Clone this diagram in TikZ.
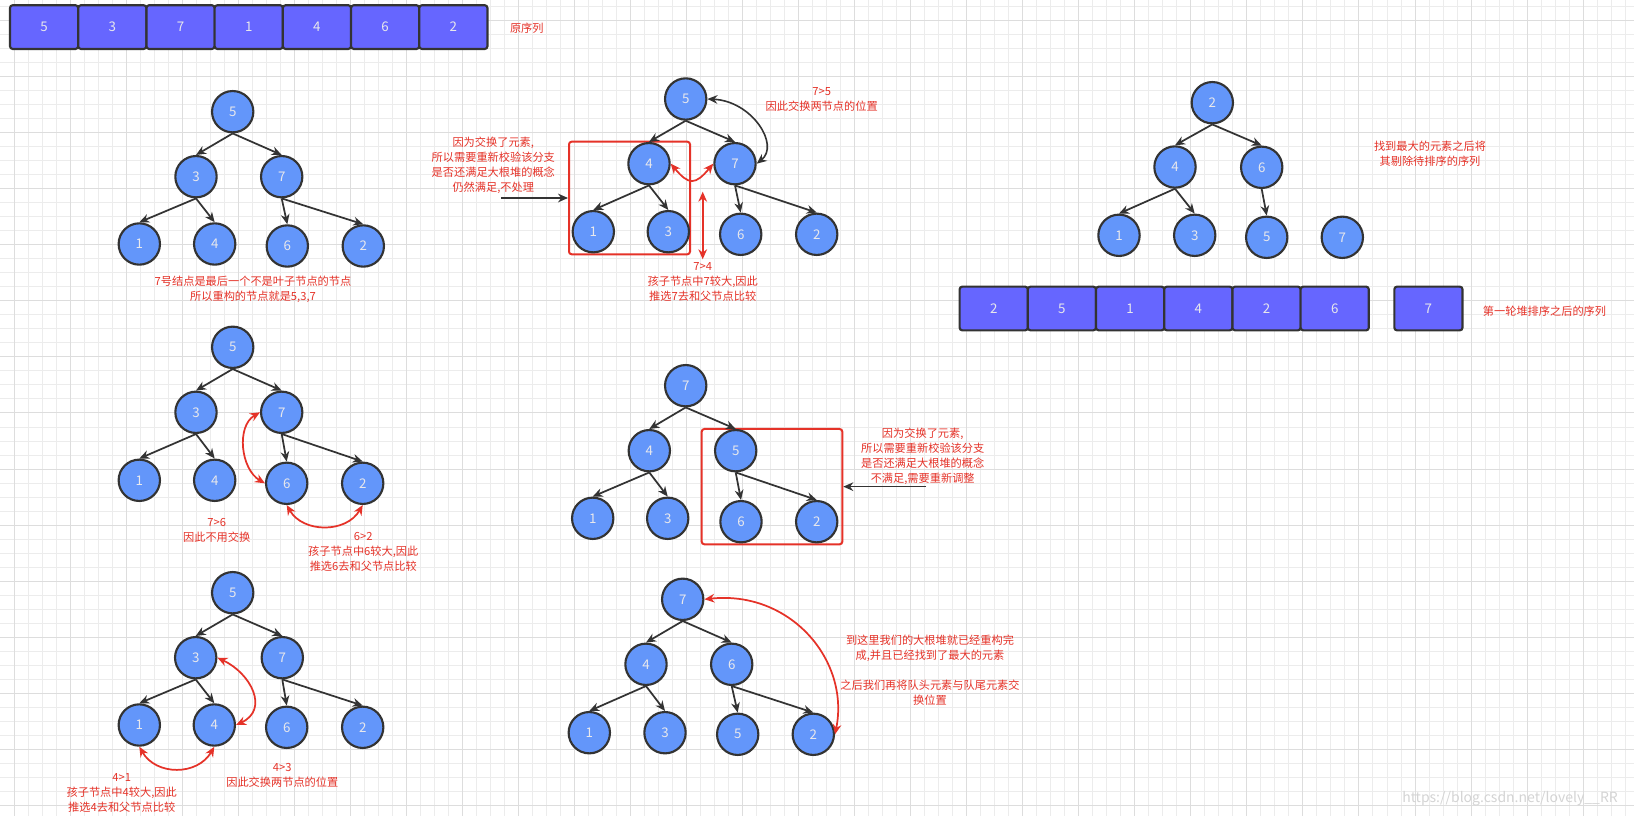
\documentclass[tikz,border=0pt]{standalone}
\usepackage{fontspec}
\setmainfont{Noto Sans CJK SC}
\usetikzlibrary{arrows.meta}
\definecolor{nodeblue}{RGB}{99,150,250}
\definecolor{boxblue}{RGB}{102,102,255}
\definecolor{edgegray}{RGB}{51,51,51}
\definecolor{notered}{RGB}{229,50,40}
\definecolor{numtext}{RGB}{232,232,236}
\definecolor{gridminor}{RGB}{236,236,236}
\definecolor{gridmajor}{RGB}{221,221,221}
\definecolor{wmark}{RGB}{212,212,212}
\tikzset{
  hnode/.style={circle, draw=edgegray, line width=1.6pt, fill=nodeblue, minimum size=31pt, inner sep=0pt, text=numtext, font=\fontsize{10}{12}\selectfont},
  cell/.style={rectangle, rounded corners=2pt, draw=edgegray, line width=1.6pt, fill=boxblue, minimum width=51.1pt, minimum height=32.8pt, inner sep=0pt, text=numtext, font=\fontsize{10}{12}\selectfont},
  tedge/.style={draw=edgegray, line width=1.3pt, -{Stealth[length=7.5pt,width=6.5pt]}},
  blkarr/.style={draw=edgegray, line width=1.2pt, -{Stealth[length=7.5pt,width=6.5pt]}},
  blkdbl/.style={draw=edgegray, line width=1.2pt, {Stealth[length=7.5pt,width=6.5pt]}-{Stealth[length=7.5pt,width=6.5pt]}},
  redarr/.style={draw=notered, line width=1.3pt, {Stealth[length=7.5pt,width=6.5pt]}-{Stealth[length=7.5pt,width=6.5pt]}},
  redframe/.style={rectangle, rounded corners=2pt, draw=notered, line width=1.5pt, inner sep=0pt},
  note/.style={text=notered, align=center, inner sep=0pt, font=\fontsize{8.4}{11.25}\selectfont},
}
\begin{document}
\begin{tikzpicture}[x=0.75pt, y=-0.75pt]
\useasboundingbox (0,0) rectangle (1634,816);
\fill[white] (0,0) rectangle (1634,816);
% grid
\foreach \i in {1,...,116} { \draw[gridminor, line width=0.75pt] (\i*14.01,0) -- (\i*14.01,816); }
\foreach \j in {0,...,57} { \draw[gridminor, line width=0.75pt] (0,6.7+\j*14.01) -- (1634,6.7+\j*14.01); }
\foreach \i in {1,5,...,116} { \draw[gridmajor, line width=0.75pt] (\i*14.01,0) -- (\i*14.01,816); }
\foreach \j in {1,5,...,57} { \draw[gridmajor, line width=0.75pt] (0,6.7+\j*14.01) -- (1634,6.7+\j*14.01); }

% top array
\foreach \v [count=\k from 0] in {5,3,7,1,4,6,2} { \node[cell] (top\k) at (44.1+\k*68.21,27.1) {\v}; }
\node[note] (toplabel) at (526.8,28) {原序列};

% bottom array
\foreach \v [count=\k from 0] in {2,5,1,4,2,6} { \node[cell] (bot\k) at (993.7+\k*68.2,308.5) {\v}; }
\node[cell] (bot7) at (1428.4,308.5) {7};
\node[note] (botlabel) at (1544.5,311) {第一轮堆排序之后的序列};

% tree 1
\node[hnode] (a5) at (232.7,111.7) {5};
\node[hnode] (a3) at (196,176.7) {3};
\node[hnode] (a7) at (281.7,176.7) {7};
\node[hnode] (a1) at (139.3,244) {1};
\node[hnode] (a4) at (214.7,244) {4};
\node[hnode] (a6) at (287.3,246) {6};
\node[hnode] (a2) at (363.3,246) {2};
\node[note] (anote) at (253,289) {7号结点是最后一个不是叶子节点的节点\\所以重构的节点就是5,3,7};

% tree 2
\node[redframe, minimum width=90.75pt, minimum height=84.45pt] (bframe) at (629.5,198) {};
\node[hnode] (b5) at (685.7,99) {5};
\node[hnode] (b4) at (649,163.7) {4};
\node[hnode] (b7) at (735,163.7) {7};
\node[hnode] (b1) at (593.3,231.7) {1};
\node[hnode] (b3) at (668.3,231.7) {3};
\node[hnode] (b6) at (740.7,234.3) {6};
\node[hnode] (b2) at (816.7,234.3) {2};
\node[note] (bleft) at (493.3,165) {因为交换了元素,\\所以需要重新校验该分支\\是否还满足大根堆的概念\\仍然满足,不处理};
\node[note] (btop) at (821.7,99.2) {7>5\\因此交换两节点的位置};
\node[note] (bbot) at (702.7,282) {7>4\\孩子节点中7较大,因此\\推选7去和父节点比较};
\coordinate (bin) at (501,198);
\coordinate (bvt) at (702.7,191.7);
\coordinate (bvb) at (702.7,259.3);

% tree 3
\node[hnode] (c2) at (1212.3,102.7) {2};
\node[hnode] (c4) at (1175,167) {4};
\node[hnode] (c6) at (1261.7,167.3) {6};
\node[hnode] (c1) at (1119,235.3) {1};
\node[hnode] (c3) at (1194.7,235.3) {3};
\node[hnode] (c5) at (1266.7,237.3) {5};
\node[hnode] (c7) at (1342.3,237.3) {7};
\node[note] (cnote) at (1430,154.2) {找到最大的元素之后将\\其剔除待排序的序列};

% tree 4
\node[hnode] (d5) at (232.7,347.3) {5};
\node[hnode] (d3) at (196,412.3) {3};
\node[hnode] (d7) at (281.7,412.3) {7};
\node[hnode] (d1) at (139.3,480.3) {1};
\node[hnode] (d4) at (214.7,480.3) {4};
\node[hnode] (d6) at (286.7,483.3) {6};
\node[hnode] (d2) at (362.7,483.3) {2};
\node[note] (dleft) at (216.7,530) {7>6\\因此不用交换};
\node[note] (dright) at (363.3,552) {6>2\\孩子节点中6较大,因此\\推选6去和父节点比较};

% tree 5
\node[redframe, minimum width=105.45pt, minimum height=86.5pt] (eframe) at (772,486.65) {};
\node[hnode] (e7) at (685.7,385.7) {7};
\node[hnode] (e4) at (649.3,450.7) {4};
\node[hnode] (e5) at (735.7,450.7) {5};
\node[hnode] (e1) at (592.7,518.3) {1};
\node[hnode] (e3) at (667.7,518.3) {3};
\node[hnode] (e6) at (741,521.7) {6};
\node[hnode] (e2) at (816.7,521.7) {2};
\node[note] (enote) at (922.7,456.3) {因为交换了元素,\\所以需要重新校验该分支\\是否还满足大根堆的概念\\不满足,需要重新调整};
\coordinate (ein) at (926,486.65);

% tree 6
\node[hnode] (f5) at (232.7,592.7) {5};
\node[hnode] (f3) at (195.7,657.7) {3};
\node[hnode] (f7) at (282.3,657.7) {7};
\node[hnode] (f1) at (139.3,725) {1};
\node[hnode] (f4) at (214.3,725) {4};
\node[hnode] (f6) at (286.7,727.3) {6};
\node[hnode] (f2) at (362.7,727.3) {2};
\node[note] (fleft) at (121.7,793.2) {4>1\\孩子节点中4较大,因此\\推选4去和父节点比较};
\node[note] (fright) at (282.3,775) {4>3\\因此交换两节点的位置};

% tree 7
\node[hnode] (g7) at (682.7,599.3) {7};
\node[hnode] (g4) at (646,664.3) {4};
\node[hnode] (g6) at (731.7,664.3) {6};
\node[hnode] (g1) at (589.3,732.7) {1};
\node[hnode] (g3) at (665,732.7) {3};
\node[hnode] (g5) at (737.7,734.3) {5};
\node[hnode] (g2) at (813.3,734.3) {2};
\node[note] (gnote1) at (930,648.8) {到这里我们的大根堆就已经重构完\\成,并且已经找到了最大的元素};
\node[note] (gnote2) at (930,692.2) {之后我们再将队头元素与队尾元素交\\换位置};

% tree edges
\foreach \p/\c in {a5/a3,a5/a7,a3/a1,a3/a4,a7/a6,a7/a2,
                   b5/b4,b5/b7,b4/b1,b4/b3,b7/b6,b7/b2,
                   c2/c4,c2/c6,c4/c1,c4/c3,c6/c5,
                   d5/d3,d5/d7,d3/d1,d3/d4,d7/d6,d7/d2,
                   e7/e4,e7/e5,e4/e1,e4/e3,e5/e6,e5/e2,
                   f5/f3,f5/f7,f3/f1,f3/f4,f7/f6,f7/f2,
                   g7/g4,g7/g6,g4/g1,g4/g3,g6/g5,g6/g2}
  { \draw[tedge] (\p.south) -- (\c.north); }

% annotations arrows
\draw[blkarr] (bin) -- (bframe.west);
\draw[blkarr] (ein) -- (eframe.east);
\draw[blkdbl] (b5.east) .. controls (752,101) and (780,145) .. (b7.east);
\draw[redarr] (b4.east) to[out=-50,in=-130,looseness=1.7] (b7.west);
\draw[redarr] (bvt) -- (bvb);
\draw[redarr] (d7.west) to[out=210,in=150] (d6.west);
\draw[redarr] (d6.south) to[out=-60,in=-120,looseness=1.1] (d2.south);
\draw[redarr] (f3.east) to[out=-25,in=25,looseness=1.35] (f4.east);
\draw[redarr] (f1.south) to[out=-60,in=-120,looseness=1.15] (f4.south);
\draw[redarr] (g7.east) .. controls (790,590) and (850,660) .. (g2.east);

% watermark
\node[text=wmark, inner sep=0pt, font=\fontsize{10.5}{12}\selectfont] (wm) at (1510,799) {https://blog.csdn.net/lovely\_\_RR};
\end{tikzpicture}
\end{document}
